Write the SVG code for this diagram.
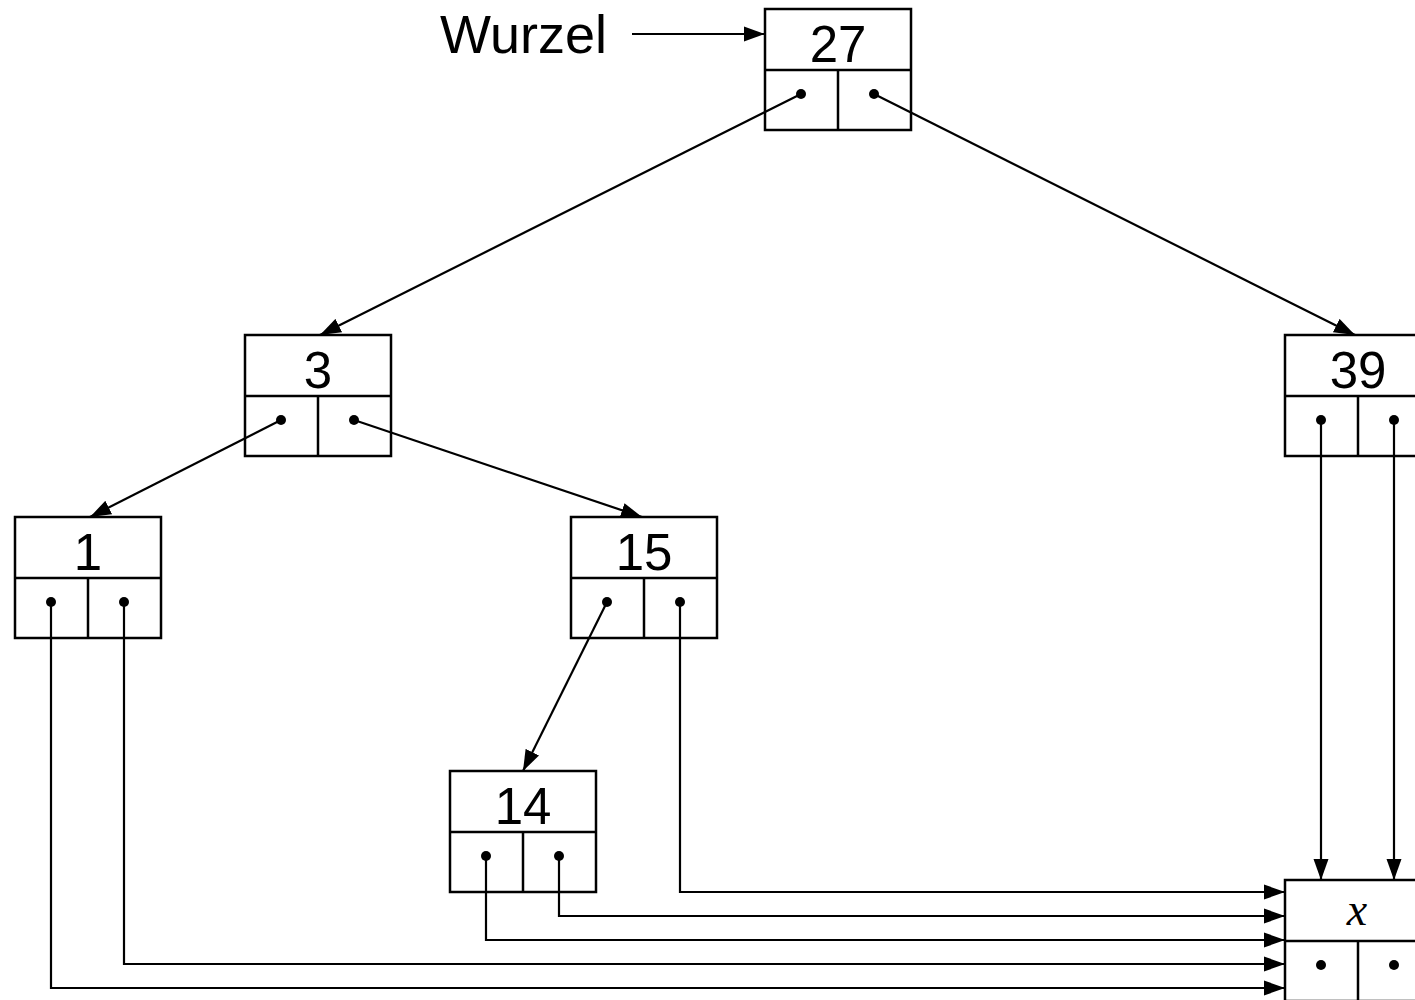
<svg xmlns="http://www.w3.org/2000/svg" width="1415" height="1000" viewBox="0 0 1415 1000">
<style>
.box{fill:#fff;stroke:#000;stroke-width:2.5}
.sep{stroke:#000;stroke-width:2.5}
.lbl{font-family:"Liberation Sans",Arial,sans-serif;font-size:51px;text-anchor:middle;fill:#000}
.dot{fill:#000}
.edge{fill:none;stroke:#000;stroke-width:2.2}
</style>
<defs>
<marker id="ah" markerUnits="userSpaceOnUse" markerWidth="22" markerHeight="16" refX="21" refY="8" orient="auto">
<path d="M0,0.5 L21,8 L0,15.5 z" fill="#000"/>
</marker>
</defs>
<rect width="1415" height="1000" fill="#fff"/>
<text x="440" y="53" font-family="'Liberation Sans',Arial,sans-serif" font-size="54" fill="#000">Wurzel</text>
<g id="n27">
<rect class="box" x="765" y="9" width="146" height="121"/>
<line class="sep" x1="765" y1="70" x2="911" y2="70"/>
<line class="sep" x1="838" y1="70" x2="838" y2="130"/>
<text class="lbl" x="838" y="62">27</text>
<circle class="dot" cx="801" cy="94" r="5"/><circle class="dot" cx="874" cy="94" r="5"/>
</g>
<g id="n3">
<rect class="box" x="245" y="335" width="146" height="121"/>
<line class="sep" x1="245" y1="396" x2="391" y2="396"/>
<line class="sep" x1="318" y1="396" x2="318" y2="456"/>
<text class="lbl" x="318" y="388">3</text>
<circle class="dot" cx="281" cy="420" r="5"/><circle class="dot" cx="354" cy="420" r="5"/>
</g>
<g id="n39">
<rect class="box" x="1285" y="335" width="146" height="121"/>
<line class="sep" x1="1285" y1="396" x2="1431" y2="396"/>
<line class="sep" x1="1358" y1="396" x2="1358" y2="456"/>
<text class="lbl" x="1358" y="388">39</text>
<circle class="dot" cx="1321" cy="420" r="5"/><circle class="dot" cx="1394" cy="420" r="5"/>
</g>
<g id="n1">
<rect class="box" x="15" y="517" width="146" height="121"/>
<line class="sep" x1="15" y1="578" x2="161" y2="578"/>
<line class="sep" x1="88" y1="578" x2="88" y2="638"/>
<text class="lbl" x="88" y="570">1</text>
<circle class="dot" cx="51" cy="602" r="5"/><circle class="dot" cx="124" cy="602" r="5"/>
</g>
<g id="n15">
<rect class="box" x="571" y="517" width="146" height="121"/>
<line class="sep" x1="571" y1="578" x2="717" y2="578"/>
<line class="sep" x1="644" y1="578" x2="644" y2="638"/>
<text class="lbl" x="644" y="570">15</text>
<circle class="dot" cx="607" cy="602" r="5"/><circle class="dot" cx="680" cy="602" r="5"/>
</g>
<g id="n14">
<rect class="box" x="450" y="771" width="146" height="121"/>
<line class="sep" x1="450" y1="832" x2="596" y2="832"/>
<line class="sep" x1="523" y1="832" x2="523" y2="892"/>
<text class="lbl" x="523" y="824">14</text>
<circle class="dot" cx="486" cy="856" r="5"/><circle class="dot" cx="559" cy="856" r="5"/>
</g>
<g id="nx">
<rect class="box" x="1285" y="880" width="146" height="121"/>
<line class="sep" x1="1285" y1="941" x2="1431" y2="941"/>
<line class="sep" x1="1358" y1="941" x2="1358" y2="1001"/>
<text x="1357" y="925" font-family="'Liberation Serif','Times New Roman',serif" font-style="italic" font-size="46" text-anchor="middle" fill="#000">x</text>
<circle class="dot" cx="1321" cy="965" r="5"/><circle class="dot" cx="1394" cy="965" r="5"/>
</g>
<g id="connectors">
<path class="edge" d="M632,34 L765,34" marker-end="url(#ah)"/>
<path class="edge" d="M801,94 L320,335" marker-end="url(#ah)"/>
<path class="edge" d="M874,94 L1355,335" marker-end="url(#ah)"/>
<path class="edge" d="M281,420 L90,517" marker-end="url(#ah)"/>
<path class="edge" d="M354,420 L642,517" marker-end="url(#ah)"/>
<path class="edge" d="M607,602 L523,771" marker-end="url(#ah)"/>
<path class="edge" d="M1321,420 L1321,880" marker-end="url(#ah)"/>
<path class="edge" d="M1394,420 L1394,880" marker-end="url(#ah)"/>
<path class="edge" d="M680,602 V892 H1285" marker-end="url(#ah)"/>
<path class="edge" d="M559,856 V916 H1285" marker-end="url(#ah)"/>
<path class="edge" d="M486,856 V940 H1285" marker-end="url(#ah)"/>
<path class="edge" d="M124,602 V964 H1285" marker-end="url(#ah)"/>
<path class="edge" d="M51,602 V988 H1285" marker-end="url(#ah)"/>
</g>
</svg>
